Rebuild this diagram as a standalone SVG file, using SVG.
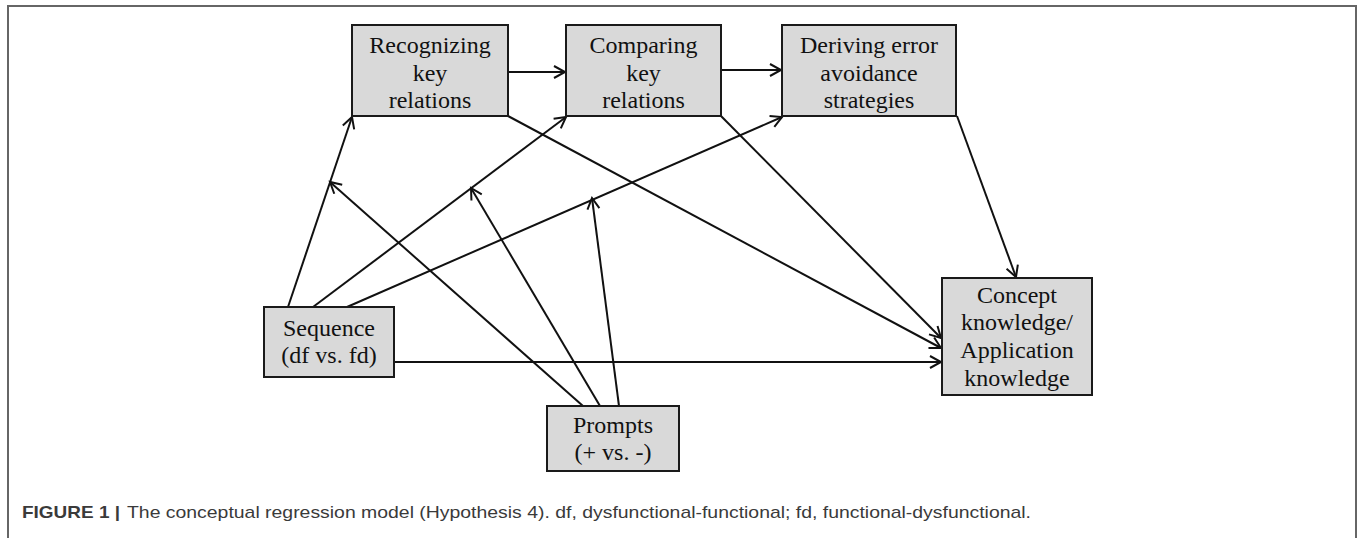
<svg xmlns="http://www.w3.org/2000/svg" width="1357" height="538" viewBox="0 0 1357 538">
<defs>
<style>
.frame{fill:none;stroke:#666;stroke-width:2}
.box{fill:#d9d9d9;stroke:#1a1a1a;stroke-width:2}
.lbl{font-family:"Liberation Serif","Times New Roman",serif;font-size:24px;fill:#111;text-anchor:middle}
.edge{fill:none;stroke:#111;stroke-width:2;marker-end:url(#arr)}
.cap{font-family:"Liberation Sans",Arial,sans-serif;font-size:17px;fill:#3a3a3a}
</style>
<marker id="arr" markerWidth="16" markerHeight="16" refX="13" refY="8" orient="auto" markerUnits="userSpaceOnUse">
<path d="M2,2 L13,8 L2,14" fill="none" stroke="#111" stroke-width="2"/>
</marker>
</defs>
<rect width="1357" height="538" fill="#fff"/>
<path class="frame" d="M8,538 V6 H1356 V538"/>
<g id="connectors">
<line class="edge" x1="508" y1="72" x2="565" y2="72"/>
<line class="edge" x1="721" y1="70" x2="781" y2="70"/>
<line class="edge" x1="288" y1="307" x2="352" y2="117"/>
<line class="edge" x1="313" y1="307" x2="566" y2="117"/>
<line class="edge" x1="347" y1="307" x2="782" y2="117"/>
<line class="edge" x1="394" y1="362" x2="941" y2="362"/>
<line class="edge" x1="508" y1="116" x2="941" y2="348"/>
<line class="edge" x1="721" y1="116" x2="941" y2="338"/>
<line class="edge" x1="957" y1="116" x2="1016" y2="277"/>
<line class="edge" x1="583" y1="406" x2="330" y2="182"/>
<line class="edge" x1="600" y1="406" x2="471" y2="188"/>
<line class="edge" x1="619" y1="406" x2="592" y2="198"/>
</g>
<g id="recognizing">
<rect class="box" x="352" y="25" width="156" height="91"/>
<text class="lbl" x="430" y="53">Recognizing</text>
<text class="lbl" x="430" y="81">key</text>
<text class="lbl" x="430" y="108">relations</text>
</g>
<g id="comparing">
<rect class="box" x="566" y="25" width="155" height="91"/>
<text class="lbl" x="643.5" y="53">Comparing</text>
<text class="lbl" x="643.5" y="81">key</text>
<text class="lbl" x="643.5" y="108">relations</text>
</g>
<g id="deriving">
<rect class="box" x="782" y="25" width="174" height="91"/>
<text class="lbl" x="869" y="53">Deriving error</text>
<text class="lbl" x="869" y="81">avoidance</text>
<text class="lbl" x="869" y="108">strategies</text>
</g>
<g id="sequence">
<rect class="box" x="264" y="307" width="130" height="70"/>
<text class="lbl" x="329" y="336">Sequence</text>
<text class="lbl" x="329" y="363">(df vs. fd)</text>
</g>
<g id="prompts">
<rect class="box" x="547" y="406" width="132" height="65"/>
<text class="lbl" x="613" y="433">Prompts</text>
<text class="lbl" x="613" y="460">(+ vs. -)</text>
</g>
<g id="concept">
<rect class="box" x="942" y="278" width="150" height="117"/>
<text class="lbl" x="1017" y="303">Concept</text>
<text class="lbl" x="1017" y="330">knowledge/</text>
<text class="lbl" x="1017" y="358">Application</text>
<text class="lbl" x="1017" y="386">knowledge</text>
</g>
<g id="caption">
<text class="cap" x="22" y="518" font-weight="bold" fill="#222" textLength="98" lengthAdjust="spacingAndGlyphs">FIGURE 1 |</text>
<text class="cap" x="127" y="518" textLength="904" lengthAdjust="spacingAndGlyphs">The conceptual regression model (Hypothesis 4). df, dysfunctional-functional; fd, functional-dysfunctional.</text>
</g>
</svg>
